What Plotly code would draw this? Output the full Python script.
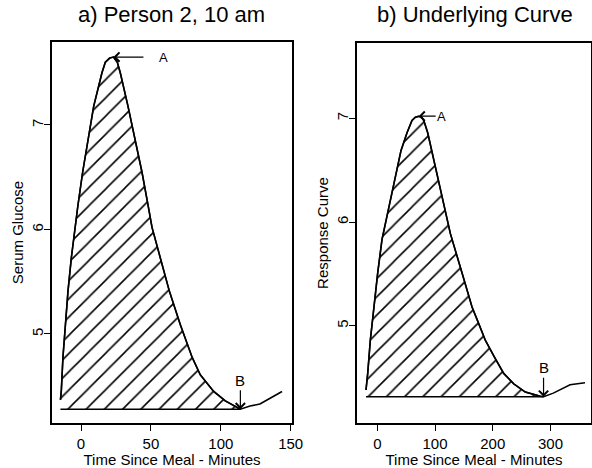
import plotly.graph_objects as go

# ---------------- data ----------------
# a) Person 2, 10 am : serum glucose vs time since meal (minutes)
a_time = [-14.7, -14.1, -12.9, -11.2, -9.3, -6.9, -4.1, -2.3, 1.2, 5.0, 9.1, 15.0,
          17.4, 20.5, 23.2, 26.0, 28.1, 33.6, 38.8, 43.6, 47.6, 50.8, 56.7, 63.2, 71.0,
          79.4, 85.3, 94.9, 103.2, 114.0, 120.9, 128.0, 135.9, 143.8]
a_glucose = [4.37, 4.45, 4.78, 5.09, 5.41, 5.73, 6.05, 6.22, 6.55, 6.86, 7.18, 7.50,
             7.60, 7.64, 7.65, 7.60, 7.50, 7.18, 6.86, 6.55, 6.26, 6.02, 5.73, 5.41, 5.09,
             4.78, 4.61, 4.45, 4.36, 4.28, 4.31, 4.33, 4.39, 4.45]

# b) Underlying curve : response curve vs time since meal (minutes)
b_time = [-19.6, -16.6, -12.1, -6.2, 0.7, 8.1, 22.5, 34.1, 41.1, 51.5, 60.1, 66.0, 71.7,
          77.0, 80.4, 87.3, 100.5, 113.8, 126.5, 146.7, 164.1, 175.7, 187.1, 202.7, 219.0,
          236.3, 256.4, 282.4, 288.0, 304.9, 333.9, 359.8]
b_resp = [4.38, 4.54, 4.86, 5.18, 5.51, 5.83, 6.21, 6.53, 6.69, 6.86, 6.98, 7.01, 7.02,
          7.01, 6.98, 6.86, 6.53, 6.21, 5.89, 5.51, 5.18, 5.02, 4.86, 4.70, 4.54,
          4.44, 4.36, 4.32, 4.315, 4.35, 4.43, 4.45]

titles = ["a) Person 2, 10 am", "b) Underlying Curve"]
x_title = "Time Since Meal - Minutes"
y_titles = ["Serum Glucose", "Response Curve"]
a_xticks = [0, 50, 100, 150]
b_xticks = [0, 100, 200, 300]
yticks = [5, 6, 7]

W, H = 592, 468
FONT = "Liberation Sans, Arial, Helvetica, sans-serif"


def peak_and_min(t, v):
    ip = max(range(len(v)), key=lambda i: v[i])
    ib = min(range(ip, len(v)), key=lambda i: v[i])
    return ip, ib


fig = go.Figure()
annotations = []

panels = [
    (a_time, a_glucose, "x", "y", 50, 0, 14),
    (b_time, b_resp, "x2", "y2", 23, 0, 0),
]
for k, (t, v, xa, ya, a_ax, a_ay, a_sso) in enumerate(panels):
    ip, ib = peak_and_min(t, v)
    base = v[ib]
    # hatched area between curve and baseline from start to B
    fx = t[: ib + 1] + [t[ib], t[0]]
    fy = v[: ib + 1] + [base, base]
    fig.add_trace(go.Scatter(
        x=fx, y=fy, xaxis=xa, yaxis=ya, mode="lines", fill="toself",
        line=dict(color="black", width=1.5),
        fillcolor="white",
        fillpattern=dict(shape="/", size=12.9, solidity=0.12,
                         fgcolor="black", bgcolor="white"),
        hoverinfo="skip", showlegend=False,
    ))
    # full curve
    fig.add_trace(go.Scatter(
        x=t, y=v, xaxis=xa, yaxis=ya, mode="lines",
        line=dict(color="black", width=1.6),
        showlegend=False,
    ))
    xr = "x" if xa == "x" else "x2"
    yr = "y" if ya == "y" else "y2"
    annotations.append(dict(
        x=t[ip], y=v[ip], xref=xr, yref=yr, text="A", showarrow=True,
        ax=a_ax, ay=a_ay, arrowhead=4, arrowsize=1.5, arrowwidth=1.2,
        arrowcolor="black", startstandoff=a_sso, standoff=0,
        font=dict(family=FONT, size=13, color="black"),
    ))
    annotations.append(dict(
        x=t[ib], y=base, xref=xr, yref=yr, text="B", showarrow=True,
        ax=0, ay=-29, arrowhead=4, arrowsize=1.5, arrowwidth=1.2,
        arrowcolor="black", standoff=0,
        font=dict(family=FONT, size=15, color="black"),
    ))

# panel titles
for xc, txt in [(172, titles[0]), (475, titles[1])]:
    annotations.append(dict(x=xc / W, y=1 - 15 / H, xref="paper", yref="paper",
                            xanchor="center", yanchor="middle",
                            text=txt, showarrow=False,
                            font=dict(family=FONT, size=22, color="black")))

axis_common = dict(showline=True, linecolor="black", linewidth=1.5, mirror=True,
                   ticks="outside", ticklen=6, tickwidth=1.2, tickcolor="black",
                   showgrid=False, zeroline=False, automargin=False,
                   tickfont=dict(family=FONT, size=15, color="black"))
title_font = dict(family=FONT, size=15, color="black")

fig.update_layout(
    template="none",
    width=W, height=H,
    margin=dict(l=0, r=0, t=0, b=0, pad=0),
    paper_bgcolor="white", plot_bgcolor="white",
    showlegend=False,
    annotations=annotations,
    xaxis=dict(domain=[52 / W, 292 / W], range=[-20.74, 150.93], tickvals=a_xticks,
               anchor="y", title=dict(text=x_title, standoff=4, font=title_font),
               **axis_common),
    yaxis=dict(domain=[45 / H, 426 / H], range=[4.148, 7.794], tickvals=yticks,
               tickangle=-90, anchor="x", ticklabelstandoff=-5,
               title=dict(text=y_titles[0], standoff=2, font=title_font),
               **axis_common),
    xaxis2=dict(domain=[357 / W, 591 / W], range=[-35.17, 370.2], tickvals=b_xticks,
                anchor="y2", title=dict(text=x_title, standoff=4, font=title_font),
                **axis_common),
    yaxis2=dict(domain=[45 / H, 425 / H], range=[4.062, 7.726], tickvals=yticks,
                tickangle=-90, anchor="x2", ticklabelstandoff=-5,
                title=dict(text=y_titles[1], standoff=2, font=title_font),
                **axis_common),
)

fig.write_html("out.html")
